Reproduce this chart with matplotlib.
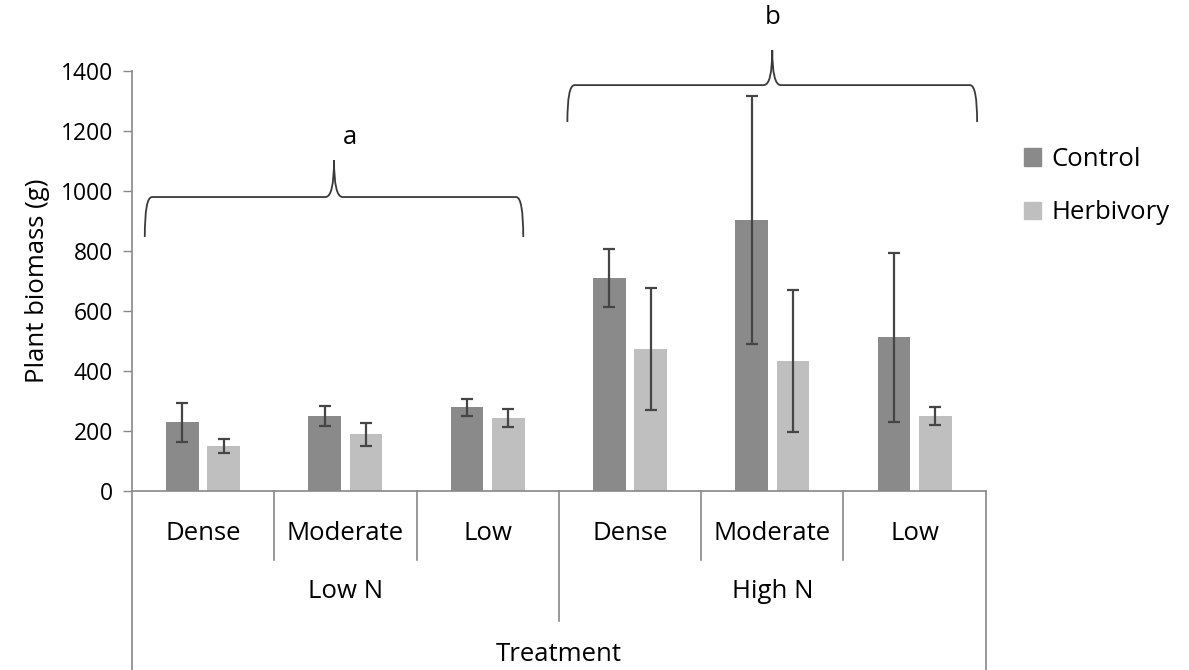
import matplotlib.pyplot as plt
from matplotlib.path import Path
from matplotlib.patches import PathPatch, Patch

plt.rcParams['font.family'] = ['Open Sans', 'DejaVu Sans']

# Valores medios y barras de error por tratamiento
categorias = ["Dense", "Moderate", "Low", "Dense", "Moderate", "Low"]
grupos = ["Low N", "High N"]
control = [229, 251, 279, 711, 903, 512]
control_err = [66, 33, 28, 97, 413, 281]
herbivoria = [149, 189, 243, 473, 433, 250]
herbivoria_err = [23, 38, 30, 203, 237, 30]

col_control = "#8a8a8a"
col_herb = "#bfbfbf"
col_err = "#454545"
col_eje = "#888888"
fs = 18.5

fig = plt.figure(figsize=(11.89, 6.70), dpi=100)
ax = fig.add_axes([0.111, 0.267, 0.718, 0.627])

x = list(range(len(categorias)))
desp = 0.145
ancho = 0.23
ax.bar([i - desp for i in x], control, ancho, color=col_control, zorder=2)
ax.bar([i + desp for i in x], herbivoria, ancho, color=col_herb, zorder=2)
ax.errorbar([i - desp for i in x], control, yerr=control_err, fmt='none',
            ecolor=col_err, elinewidth=1.6, capsize=4.5, capthick=1.6, zorder=3)
ax.errorbar([i + desp for i in x], herbivoria, yerr=herbivoria_err, fmt='none',
            ecolor=col_err, elinewidth=1.6, capsize=4.5, capthick=1.6, zorder=3)

ax.set_xlim(-0.5, 5.5)
ax.set_ylim(0, 1400)
ax.set_yticks(range(0, 1401, 200))
ax.tick_params(axis='y', direction='out', length=6.5, width=1, color=col_eje,
               labelsize=16.5, pad=7)
ax.set_xticks([])
for s in ["top", "right"]:
    ax.spines[s].set_visible(False)
ax.spines["left"].set_color(col_eje)
ax.spines["bottom"].set_color(col_eje)
ax.spines["left"].set_linewidth(1.2)
ax.spines["bottom"].set_linewidth(1.2)
ax.set_ylabel("Plant biomass (g)", fontsize=fs, labelpad=8)

# Etiquetas de categorias en dos niveles debajo del eje
tr = ax.get_xaxis_transform()
for i, c in enumerate(categorias):
    ax.text(i, -0.10, c, transform=tr, ha='center', va='center', fontsize=fs)
for b in [0.5, 1.5, 3.5, 4.5]:
    ax.plot([b, b], [0, -0.165], transform=tr, color=col_eje, lw=1.2, clip_on=False)
ax.plot([2.5, 2.5], [0, -0.31], transform=tr, color=col_eje, lw=1.2, clip_on=False)
for b in [-0.5, 5.5]:
    ax.plot([b, b], [0, -0.43], transform=tr, color=col_eje, lw=1.2, clip_on=False)
for g, xc in zip(grupos, [1, 4]):
    ax.text(xc, -0.24, g, transform=tr, ha='center', va='center', fontsize=fs)
ax.text(2.5, -0.39, "Treatment", transform=tr, ha='center', va='center', fontsize=fs)


def llave(ax, x0, x1, y_h, y_fin, y_pico, rx=0.05, cx=0.06):
    xm = (x0 + x1) / 2
    verts = [(x0, y_fin), (x0, y_h), (x0 + rx, y_h),
             (xm - cx, y_h), (xm, y_h), (xm, y_pico),
             (xm, y_h), (xm + cx, y_h),
             (x1 - rx, y_h), (x1, y_h), (x1, y_fin)]
    codes = [Path.MOVETO, Path.CURVE3, Path.CURVE3,
             Path.LINETO, Path.CURVE3, Path.CURVE3,
             Path.CURVE3, Path.CURVE3,
             Path.LINETO, Path.CURVE3, Path.CURVE3]
    ax.add_patch(PathPatch(Path(verts, codes), fill=False, edgecolor="#3a3a3a",
                           lw=1.3, clip_on=False))


llave(ax, -0.41, 2.25, 980, 847, 1103)
ax.text(1.03, 1177, "a", ha='center', va='center', fontsize=fs)
llave(ax, 2.56, 5.44, 1353, 1230, 1470)
ax.text(4.0, 1577, "b", ha='center', va='center', fontsize=fs)

manejadores = [Patch(color=col_control, label="Control"),
               Patch(color=col_herb, label="Herbivory")]
fig.legend(handles=manejadores, loc='upper left', bbox_to_anchor=(0.853, 0.796),
           frameon=False, fontsize=fs, handlelength=0.65, handleheight=0.65,
           handletextpad=0.4, labelspacing=1.1, borderaxespad=0)

fig.savefig("out.png", dpi=100)
